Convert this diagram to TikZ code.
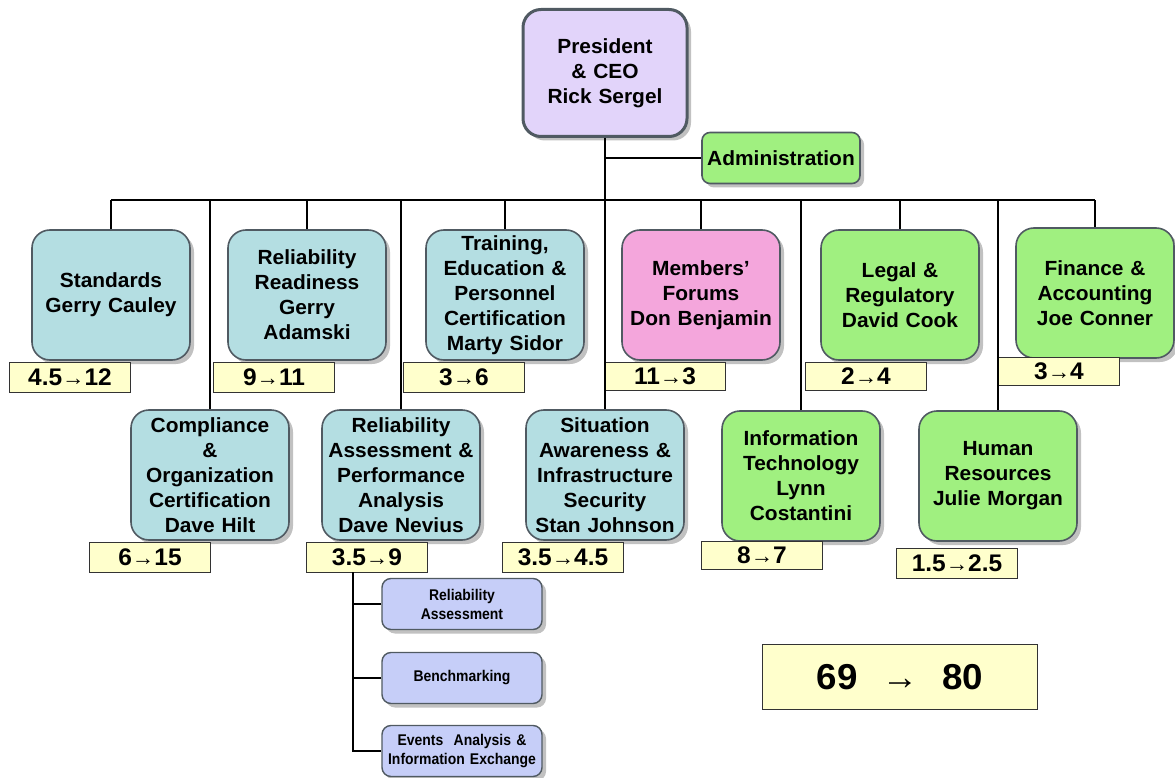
\documentclass[tikz,border=0pt]{standalone}
\usepackage{fontspec}
\setmainfont[FakeStretch=1.02]{Liberation Sans}
\newfontfamily\subfont[FakeStretch=0.9]{Liberation Sans}
\usetikzlibrary{positioning, shadows}
\definecolor{edge}{HTML}{505A62}
\definecolor{teal}{HTML}{B4DEE2}
\definecolor{lime}{HTML}{A0F080}
\definecolor{rose}{HTML}{F4A6DC}
\definecolor{lilac}{HTML}{E2D4FA}
\definecolor{periw}{HTML}{C6CEF8}
\definecolor{cream}{HTML}{FFFFCC}
\newcommand{\numarrow}{{\mdseries\fontsize{22}{22}\selectfont→}}

\begin{document}
\begin{tikzpicture}[x=1pt, y=-1pt, line width=1.6pt,
    shade/.style={drop shadow={shadow xshift=4pt, shadow yshift=-4pt, opacity=.35, fill=black!70}},
    unit/.style={shade, draw=edge, line width=1.6pt, rounded corners=18pt,
        minimum width=158pt, minimum height=130pt, text width=156pt,
        align=center, inner sep=0pt, font=\bfseries\fontsize{20.5}{25}\selectfont},
    count/.style={draw=black!80, line width=.8pt, fill=cream, minimum width=121pt,
        minimum height=30pt, inner sep=0pt, font=\bfseries\fontsize{24}{24}\selectfont},
    subunit/.style={shade, draw=edge, line width=1.4pt, rounded corners=9pt, fill=periw,
        minimum width=160pt, minimum height=51pt, text width=158pt, align=center,
        inner sep=0pt, font=\subfont\bfseries\fontsize{15.5}{19}\selectfont}]
\useasboundingbox (0,0) rectangle (1175,778);

\node[unit, fill=lilac, line width=3pt, minimum width=164pt, minimum height=127pt] (pres) at (605,73) {President\\ \& CEO\\ Rick Sergel};
\node[unit, fill=lime, rounded corners=8pt, minimum height=51pt] (admin) at (781,158) {Administration};

\node[unit, fill=teal] (std) at (111,295) {Standards\\ Gerry Cauley};
\node[unit, fill=teal] (rr) at (307,295) {Reliability\\ Readiness\\ Gerry\\ Adamski};
\node[unit, fill=teal] (trn) at (505,295) {Training,\\ Education \&\\ Personnel\\ Certification\\ Marty Sidor};
\node[unit, fill=rose] (mem) at (701,295) {Members’\\ Forums\\ Don Benjamin};
\node[unit, fill=lime] (leg) at (900,295) {Legal \&\\ Regulatory\\ David Cook};
\node[unit, fill=lime] (fin) at (1095,293) {Finance \&\\ Accounting\\ Joe Conner};

\node[unit, fill=teal] (cmp) at (210,475) {Compliance\\ \&\\ Organization\\ Certification\\ Dave Hilt};
\node[unit, fill=teal] (ra) at (401,475) {Reliability\\ Assessment \&\\ Performance\\ Analysis\\ Dave Nevius};
\node[unit, fill=teal] (sit) at (605,475) {Situation\\ Awareness \&\\ Infrastructure\\ Security\\ Stan Johnson};
\node[unit, fill=lime] (it) at (801,476) {Information\\ Technology\\ Lynn\\ Costantini};
\node[unit, fill=lime] (hr) at (998,476) {Human\\ Resources\\ Julie Morgan};

\node[count] (nstd) at (70,377) {4.5\numarrow12};
\node[count] (nrr) at (274,377) {9\numarrow11};
\node[count] (ntrn) at (464,377) {3\numarrow6};
\node[count, minimum height=28pt] (nmem) at (665,376) {11\numarrow3};
\node[count, minimum height=28pt] (nleg) at (866,376) {2\numarrow4};
\node[count, minimum height=28pt] (nfin) at (1059,371) {3\numarrow4};
\node[count] (ncmp) at (150,557) {6\numarrow15};
\node[count] (nra) at (367,557) {3.5\numarrow9};
\node[count] (nsit) at (563,557) {3.5\numarrow4.5};
\node[count, minimum height=28pt] (nit) at (762,555) {8\numarrow7};
\node[count] (nhr) at (957,563) {1.5\numarrow2.5};

\node[subunit] (sb1) at (462,604) {Reliability\\ Assessment};
\node[subunit] (sb2) at (462,678) {Benchmarking};
\node[subunit] (sb3) at (462,751) {Events\ \ Analysis \&\\ Information Exchange};

\node[count, minimum width=275pt, minimum height=65pt, font=\bfseries\fontsize{36}{36}\selectfont] (total) at (900,677) {69\hspace{24pt}{\mdseries→}\hspace{24pt}80};

\coordinate (bus) at (605,200);
\coordinate (spine) at (353,572);
\draw (pres) -- (sit);
\draw (admin.west) -- (admin.west -| pres.south);
\draw (std.north |- bus) -- (fin.north |- bus);
\foreach \n in {std, rr, trn, mem, leg, fin, cmp, ra, it, hr}
    \draw (\n.north) -- (\n.north |- bus);
\draw (spine) |- (sb3.west);
\draw (sb1.west) -- (sb1.west -| spine);
\draw (sb2.west) -- (sb2.west -| spine);
\end{tikzpicture}
\end{document}
